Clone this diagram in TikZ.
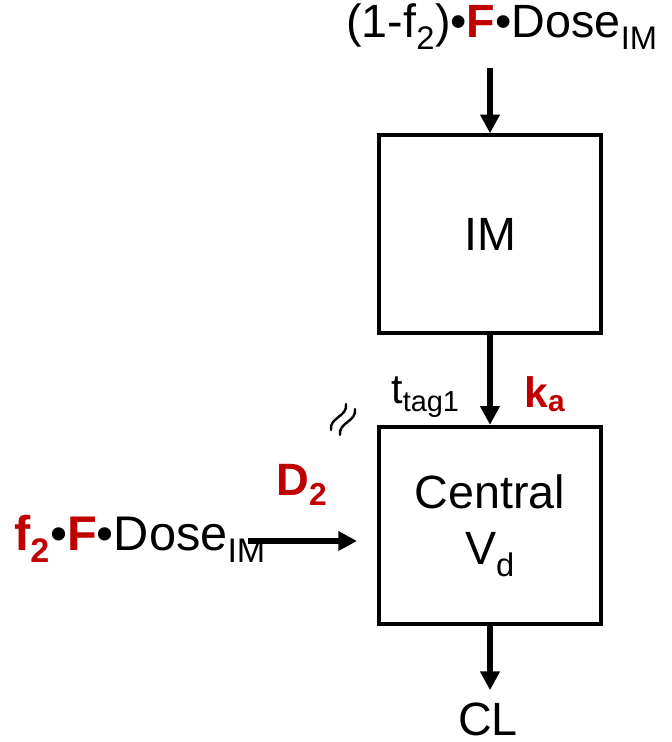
\documentclass[tikz,border=0pt]{standalone}
\usepackage{fontspec}
\setmainfont{Liberation Sans}
\usepackage{xcolor}
\usetikzlibrary{arrows.meta,positioning}
\definecolor{pkred}{RGB}{192,0,0}

\begin{document}
\begin{tikzpicture}[
  x=0.75pt, y=-0.75pt,
  comp/.style={draw, line width=3pt, minimum width=167pt, minimum height=148pt, align=center, font=\fontsize{35}{42}\selectfont},
  lbl/.style={inner sep=0pt, font=\fontsize{35}{40}\selectfont},
  tiny/.style={inner sep=0pt, font=\fontsize{31}{36}\selectfont},
  par/.style={inner sep=0pt, text=pkred, font=\fontsize{32}{38}\selectfont\bfseries},
  arr/.style={line width=3.8pt, -{Triangle[length=14pt, width=14pt]}},
  wig/.style={line width=1.8pt, line cap=round}
]
\useasboundingbox (0,0) rectangle (671,742);

% compartments
\node[comp] (im) at (490,234) {IM};
\node[comp] (central) at (490,525.5) {Central\\V\textsubscript{d}};

% doses and elimination
\node[lbl, anchor=base] (dosetop) at (502,38) {(1-f\textsubscript{2})•{\color{pkred}\bfseries F}•Dose\textsubscript{IM}};
\node[lbl, anchor=base west, font=\fontsize{36.5}{42}\selectfont] (doseleft) at (14,550) {{\color{pkred}\bfseries f\textsubscript{2}}•{\color{pkred}\bfseries F}•Dose\textsubscript{IM}};
\node[lbl, anchor=base] (cl) at (488,735) {CL};
\coordinate (feed) at (490,68);
\coordinate (d2from) at (248,541);
\coordinate (d2to) at (357,541);

% parameters
\node[tiny, anchor=base west] (ttag) at (391,403) {t\textsubscript{tag1}};
\node[par, anchor=base west] (ka) at (524,407) {k\textsubscript{a}};
\node[par, anchor=base west, font=\fontsize{34}{40}\selectfont\bfseries] (dtwo) at (276,495) {D\textsubscript{2}};

\draw[arr] (feed) -- (im.north);
\draw[arr] (im.south) -- (central.north);
\draw[arr] (d2from) -- (d2to);
\draw[arr, shorten >=9pt] (central.south) -- (central.south |- cl.north);

% lag marker
\foreach \dx/\dy in {0/0, 9/5}
  \draw[wig, shift={(\dx,\dy)}] (331,430) .. controls (329.1,417.3) and (347.9,416.7) .. (346,404);
\end{tikzpicture}
\end{document}
